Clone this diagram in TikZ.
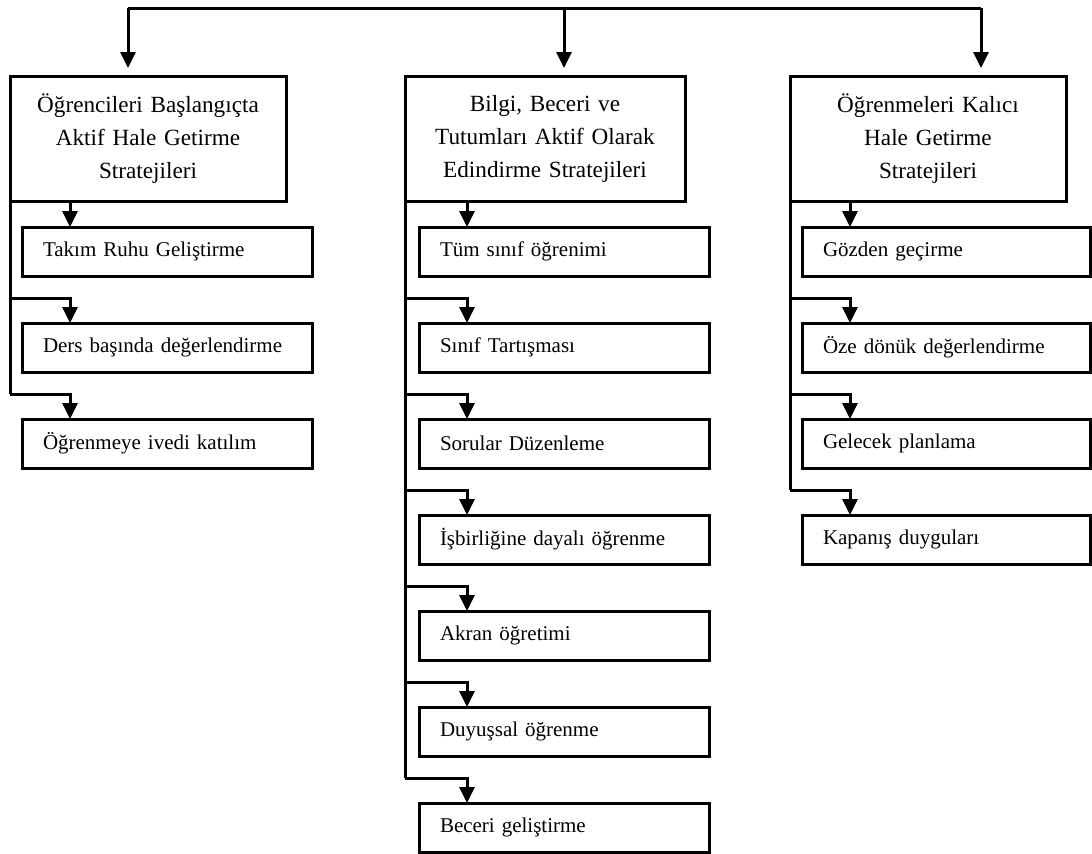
\documentclass[tikz,border=0pt]{standalone}
\usepackage{fontspec}
\setmainfont{Liberation Serif}
\usetikzlibrary{positioning}
\usetikzlibrary{arrows.meta}

\tikzset{
  head/.style={draw, line width=1.5pt, outer sep=0pt, minimum height=62.5pt,
    minimum width=138pt, text width=130pt, align=center,
    font=\fontsize{11.6}{16.5}\selectfont},
  item/.style={draw, line width=1.5pt, outer sep=0pt, minimum height=24.5pt,
    text width=124pt, inner xsep=10.5pt, align=left,
    font=\fontsize{10.5}{12}\selectfont},
  link/.style={line width=1.5pt},
  arr/.style={line width=1.5pt, -{Triangle[width=7.5pt,length=8pt]}},
}

\begin{document}
\begin{tikzpicture}[x=0.5pt, y=-0.5pt]
   \useasboundingbox (0,0) rectangle (1092,853);

   \node[head] (h1) at (148,138.5) {Öğrencileri Başlangıçta\\ Aktif Hale Getirme\\ Stratejileri};
   \node[head, minimum width=140pt, text width=132pt] (h2) at (545,138.5) {Bilgi, Beceri ve\\ Tutumları Aktif Olarak\\ Edindirme Stratejileri};
   \node[head] (h3) at (928,138.5) {Öğrenmeleri Kalıcı\\ Hale Getirme\\ Stratejileri};

   \node[item, below right=13pt and 6pt of h1.south west] (a1) {Takım Ruhu Geliştirme};
   \node[item, below=23.5pt of a1] (a2) {Ders başında değerlendirme};
   \node[item, below=23.5pt of a2] (a3) {Öğrenmeye ivedi katılım};

   \node[item, below right=13pt and 7pt of h2.south west] (b1) {Tüm sınıf öğrenimi};
   \node[item, below=23.5pt of b1] (b2) {Sınıf Tartışması};
   \node[item, below=23.5pt of b2] (b3) {Sorular Düzenleme};
   \node[item, below=23.5pt of b3] (b4) {İşbirliğine dayalı öğrenme};
   \node[item, below=23.5pt of b4] (b5) {Akran öğretimi};
   \node[item, below=23.5pt of b5] (b6) {Duyuşsal öğrenme};
   \node[item, below=23.5pt of b6] (b7) {Beceri geliştirme};

   \node[item, text width=123pt, below right=13pt and 6pt of h3.south west] (c1) {Gözden geçirme};
   \node[item, text width=123pt, below=23.5pt of c1] (c2) {Öze dönük değerlendirme};
   \node[item, text width=123pt, below=23.5pt of c2] (c3) {Gelecek planlama};
   \node[item, text width=123pt, below=23.5pt of c3] (c4) {Kapanış duyguları};

   % top line
   \coordinate (ta) at (128,8);
   \coordinate (tb) at (564,8);
   \coordinate (tc) at (981,8);
   \draw[link] (ta) -- (tc);
   \draw[arr, shorten >=4pt] (ta) -- (ta |- h1.north);
   \draw[arr, shorten >=4pt] (tb) -- (tb |- h2.north);
   \draw[arr, shorten >=4pt] (tc) -- (tc |- h3.north);

   % first column
   \coordinate (pa1) at ([xshift=24pt]a1.north west);
   \coordinate (ka2) at ([shift={(24pt,12.5pt)}]a2.north west);
   \coordinate (ka3) at ([shift={(24pt,12.5pt)}]a3.north west);
   \draw[arr] (pa1 |- h1.south) -- (pa1);
   \draw[link] (h1.south west) -- (h1.south west |- ka3);
   \draw[arr] (h1.south west |- ka2) -- (ka2) -- (ka2 |- a2.north);
   \draw[arr] (h1.south west |- ka3) -- (ka3) -- (ka3 |- a3.north);

   % second column
   \coordinate (pb1) at ([xshift=24pt]b1.north west);
   \coordinate (kb2) at ([shift={(24pt,12.5pt)}]b2.north west);
   \coordinate (kb3) at ([shift={(24pt,12.5pt)}]b3.north west);
   \coordinate (kb4) at ([shift={(24pt,12.5pt)}]b4.north west);
   \coordinate (kb5) at ([shift={(24pt,12.5pt)}]b5.north west);
   \coordinate (kb6) at ([shift={(24pt,12.5pt)}]b6.north west);
   \coordinate (kb7) at ([shift={(24pt,12.5pt)}]b7.north west);
   \draw[arr] (pb1 |- h2.south) -- (pb1);
   \draw[link] (h2.south west) -- (h2.south west |- kb7);
   \draw[arr] (h2.south west |- kb2) -- (kb2) -- (kb2 |- b2.north);
   \draw[arr] (h2.south west |- kb3) -- (kb3) -- (kb3 |- b3.north);
   \draw[arr] (h2.south west |- kb4) -- (kb4) -- (kb4 |- b4.north);
   \draw[arr] (h2.south west |- kb5) -- (kb5) -- (kb5 |- b5.north);
   \draw[arr] (h2.south west |- kb6) -- (kb6) -- (kb6 |- b6.north);
   \draw[arr] (h2.south west |- kb7) -- (kb7) -- (kb7 |- b7.north);

   % third column
   \coordinate (pc1) at ([xshift=24pt]c1.north west);
   \coordinate (kc2) at ([shift={(24pt,12.5pt)}]c2.north west);
   \coordinate (kc3) at ([shift={(24pt,12.5pt)}]c3.north west);
   \coordinate (kc4) at ([shift={(24pt,12.5pt)}]c4.north west);
   \draw[arr] (pc1 |- h3.south) -- (pc1);
   \draw[link] (h3.south west) -- (h3.south west |- kc4);
   \draw[arr] (h3.south west |- kc2) -- (kc2) -- (kc2 |- c2.north);
   \draw[arr] (h3.south west |- kc3) -- (kc3) -- (kc3 |- c3.north);
   \draw[arr] (h3.south west |- kc4) -- (kc4) -- (kc4 |- c4.north);
\end{tikzpicture}
\end{document}
